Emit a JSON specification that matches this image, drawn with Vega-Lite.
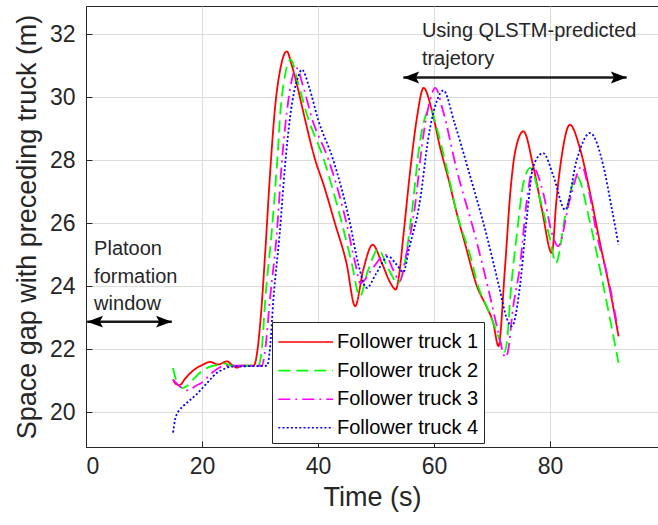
{
  "$schema": "https://vega.github.io/schema/vega-lite/v6.json",
  "width": 572,
  "height": 441,
  "autosize": {"type": "none"},
  "padding": {"left": 86, "top": 6, "right": 0, "bottom": 78},
  "background": "white",
  "config": {
    "font": "Liberation Sans",
    "view": {"stroke": "#262626", "strokeWidth": 1},
    "axis": {
      "labelFont": "Liberation Sans",
      "titleFont": "Liberation Sans",
      "labelColor": "#262626",
      "titleColor": "#262626",
      "labelFontSize": 23,
      "titleFontSize": 27,
      "titleFontWeight": "normal",
      "domainColor": "#262626",
      "tickColor": "#262626",
      "gridColor": "#dcdcdc",
      "gridWidth": 1
    },
    "legend": {
      "labelFont": "Liberation Sans",
      "labelFontSize": 20,
      "labelColor": "#000000",
      "strokeColor": "#262626",
      "fillColor": "white",
      "padding": 5,
      "rowPadding": 3.6,
      "symbolType": "M-1,0H3",
      "symbolSize": 751,
      "symbolStrokeWidth": 1.6,
      "labelOffset": 30
    }
  },
  "datasets": {
    "gap": [
      {"truck": "Follower truck 1", "time": 15, "gap": 21.05},
      {"truck": "Follower truck 1", "time": 15.5, "gap": 20.9},
      {"truck": "Follower truck 1", "time": 16.2, "gap": 20.87},
      {"truck": "Follower truck 1", "time": 17, "gap": 21.05},
      {"truck": "Follower truck 1", "time": 18, "gap": 21.25},
      {"truck": "Follower truck 1", "time": 19, "gap": 21.4},
      {"truck": "Follower truck 1", "time": 20, "gap": 21.5},
      {"truck": "Follower truck 1", "time": 21.4, "gap": 21.6},
      {"truck": "Follower truck 1", "time": 22.8, "gap": 21.52},
      {"truck": "Follower truck 1", "time": 24.3, "gap": 21.62},
      {"truck": "Follower truck 1", "time": 25.2, "gap": 21.5},
      {"truck": "Follower truck 1", "time": 26, "gap": 21.42},
      {"truck": "Follower truck 1", "time": 27, "gap": 21.48},
      {"truck": "Follower truck 1", "time": 28.9, "gap": 21.48},
      {"truck": "Follower truck 1", "time": 29.5, "gap": 21.9},
      {"truck": "Follower truck 1", "time": 30.2, "gap": 23.2},
      {"truck": "Follower truck 1", "time": 30.9, "gap": 25.1},
      {"truck": "Follower truck 1", "time": 31.7, "gap": 27.5},
      {"truck": "Follower truck 1", "time": 32.6, "gap": 29.7},
      {"truck": "Follower truck 1", "time": 33.5, "gap": 30.9},
      {"truck": "Follower truck 1", "time": 34.6, "gap": 31.46},
      {"truck": "Follower truck 1", "time": 35.5, "gap": 31.0},
      {"truck": "Follower truck 1", "time": 36.5, "gap": 30.3},
      {"truck": "Follower truck 1", "time": 37.5, "gap": 29.5},
      {"truck": "Follower truck 1", "time": 39.5, "gap": 28.02},
      {"truck": "Follower truck 1", "time": 41, "gap": 27.2},
      {"truck": "Follower truck 1", "time": 42.9, "gap": 26.01},
      {"truck": "Follower truck 1", "time": 44.9, "gap": 24.74},
      {"truck": "Follower truck 1", "time": 46.4, "gap": 23.37},
      {"truck": "Follower truck 1", "time": 47.8, "gap": 24.53},
      {"truck": "Follower truck 1", "time": 49.4, "gap": 25.32},
      {"truck": "Follower truck 1", "time": 51, "gap": 24.74},
      {"truck": "Follower truck 1", "time": 52.5, "gap": 24.1},
      {"truck": "Follower truck 1", "time": 53.4, "gap": 23.9},
      {"truck": "Follower truck 1", "time": 54, "gap": 24.4},
      {"truck": "Follower truck 1", "time": 54.7, "gap": 25.59},
      {"truck": "Follower truck 1", "time": 55.9, "gap": 27.7},
      {"truck": "Follower truck 1", "time": 57, "gap": 29.3},
      {"truck": "Follower truck 1", "time": 58.2, "gap": 30.3},
      {"truck": "Follower truck 1", "time": 59.6, "gap": 29.6},
      {"truck": "Follower truck 1", "time": 61, "gap": 28.44},
      {"truck": "Follower truck 1", "time": 62.5, "gap": 27.39},
      {"truck": "Follower truck 1", "time": 63.9, "gap": 26.33},
      {"truck": "Follower truck 1", "time": 65.3, "gap": 25.38},
      {"truck": "Follower truck 1", "time": 67.4, "gap": 24.0},
      {"truck": "Follower truck 1", "time": 69, "gap": 23.37},
      {"truck": "Follower truck 1", "time": 70.2, "gap": 22.84},
      {"truck": "Follower truck 1", "time": 71.1, "gap": 22.1},
      {"truck": "Follower truck 1", "time": 72.2, "gap": 24.53},
      {"truck": "Follower truck 1", "time": 73.2, "gap": 27.1},
      {"truck": "Follower truck 1", "time": 74, "gap": 28.3},
      {"truck": "Follower truck 1", "time": 75.4, "gap": 28.92},
      {"truck": "Follower truck 1", "time": 77.1, "gap": 27.81},
      {"truck": "Follower truck 1", "time": 78.6, "gap": 26.43},
      {"truck": "Follower truck 1", "time": 80.3, "gap": 25.06},
      {"truck": "Follower truck 1", "time": 81.1, "gap": 26.75},
      {"truck": "Follower truck 1", "time": 82, "gap": 28.13},
      {"truck": "Follower truck 1", "time": 83.4, "gap": 29.13},
      {"truck": "Follower truck 1", "time": 85.2, "gap": 28.34},
      {"truck": "Follower truck 1", "time": 86.9, "gap": 26.96},
      {"truck": "Follower truck 1", "time": 88.6, "gap": 25.38},
      {"truck": "Follower truck 1", "time": 90.3, "gap": 23.9},
      {"truck": "Follower truck 1", "time": 91.8, "gap": 22.41},

      {"truck": "Follower truck 2", "time": 15, "gap": 21.41},
      {"truck": "Follower truck 2", "time": 15.5, "gap": 21.05},
      {"truck": "Follower truck 2", "time": 16.7, "gap": 20.77},
      {"truck": "Follower truck 2", "time": 17.5, "gap": 20.85},
      {"truck": "Follower truck 2", "time": 18.5, "gap": 21.05},
      {"truck": "Follower truck 2", "time": 19.9, "gap": 21.3},
      {"truck": "Follower truck 2", "time": 21, "gap": 21.42},
      {"truck": "Follower truck 2", "time": 22.5, "gap": 21.5},
      {"truck": "Follower truck 2", "time": 24, "gap": 21.55},
      {"truck": "Follower truck 2", "time": 25, "gap": 21.48},
      {"truck": "Follower truck 2", "time": 29.7, "gap": 21.48},
      {"truck": "Follower truck 2", "time": 30.3, "gap": 22.0},
      {"truck": "Follower truck 2", "time": 30.9, "gap": 23.58},
      {"truck": "Follower truck 2", "time": 32, "gap": 25.7},
      {"truck": "Follower truck 2", "time": 32.9, "gap": 27.81},
      {"truck": "Follower truck 2", "time": 33.7, "gap": 29.93},
      {"truck": "Follower truck 2", "time": 35.3, "gap": 31.2},
      {"truck": "Follower truck 2", "time": 36.5, "gap": 30.5},
      {"truck": "Follower truck 2", "time": 38, "gap": 29.5},
      {"truck": "Follower truck 2", "time": 41, "gap": 28.02},
      {"truck": "Follower truck 2", "time": 44.1, "gap": 26.01},
      {"truck": "Follower truck 2", "time": 45.8, "gap": 24.74},
      {"truck": "Follower truck 2", "time": 47.2, "gap": 23.68},
      {"truck": "Follower truck 2", "time": 48.6, "gap": 24.5},
      {"truck": "Follower truck 2", "time": 50.4, "gap": 25.17},
      {"truck": "Follower truck 2", "time": 52, "gap": 24.6},
      {"truck": "Follower truck 2", "time": 53.8, "gap": 24.11},
      {"truck": "Follower truck 2", "time": 54.8, "gap": 24.6},
      {"truck": "Follower truck 2", "time": 56.2, "gap": 26.4},
      {"truck": "Follower truck 2", "time": 57.5, "gap": 28.5},
      {"truck": "Follower truck 2", "time": 59.3, "gap": 29.63},
      {"truck": "Follower truck 2", "time": 60.5, "gap": 29.0},
      {"truck": "Follower truck 2", "time": 62, "gap": 27.9},
      {"truck": "Follower truck 2", "time": 64.1, "gap": 26.2},
      {"truck": "Follower truck 2", "time": 66.2, "gap": 25.0},
      {"truck": "Follower truck 2", "time": 67.6, "gap": 24.0},
      {"truck": "Follower truck 2", "time": 69.2, "gap": 23.3},
      {"truck": "Follower truck 2", "time": 70.5, "gap": 22.7},
      {"truck": "Follower truck 2", "time": 71.5, "gap": 22.2},
      {"truck": "Follower truck 2", "time": 72.1, "gap": 21.92},
      {"truck": "Follower truck 2", "time": 72.6, "gap": 22.3},
      {"truck": "Follower truck 2", "time": 73.1, "gap": 23.57},
      {"truck": "Follower truck 2", "time": 74.3, "gap": 25.7},
      {"truck": "Follower truck 2", "time": 75.4, "gap": 27.28},
      {"truck": "Follower truck 2", "time": 76.6, "gap": 27.76},
      {"truck": "Follower truck 2", "time": 78.3, "gap": 26.75},
      {"truck": "Follower truck 2", "time": 80, "gap": 25.48},
      {"truck": "Follower truck 2", "time": 81, "gap": 24.74},
      {"truck": "Follower truck 2", "time": 82.6, "gap": 26.22},
      {"truck": "Follower truck 2", "time": 84.6, "gap": 27.49},
      {"truck": "Follower truck 2", "time": 86.9, "gap": 26.01},
      {"truck": "Follower truck 2", "time": 89.2, "gap": 24.0},
      {"truck": "Follower truck 2", "time": 91.8, "gap": 21.57},

      {"truck": "Follower truck 3", "time": 15, "gap": 21.04},
      {"truck": "Follower truck 3", "time": 16, "gap": 20.85},
      {"truck": "Follower truck 3", "time": 17.6, "gap": 20.7},
      {"truck": "Follower truck 3", "time": 19, "gap": 20.85},
      {"truck": "Follower truck 3", "time": 20, "gap": 20.95},
      {"truck": "Follower truck 3", "time": 22, "gap": 21.3},
      {"truck": "Follower truck 3", "time": 24, "gap": 21.48},
      {"truck": "Follower truck 3", "time": 30.3, "gap": 21.48},
      {"truck": "Follower truck 3", "time": 30.9, "gap": 22.0},
      {"truck": "Follower truck 3", "time": 31.7, "gap": 23.58},
      {"truck": "Follower truck 3", "time": 32.9, "gap": 25.7},
      {"truck": "Follower truck 3", "time": 33.7, "gap": 27.81},
      {"truck": "Follower truck 3", "time": 34.9, "gap": 29.93},
      {"truck": "Follower truck 3", "time": 36.3, "gap": 30.93},
      {"truck": "Follower truck 3", "time": 37.5, "gap": 30.3},
      {"truck": "Follower truck 3", "time": 39, "gap": 29.3},
      {"truck": "Follower truck 3", "time": 41.8, "gap": 28.02},
      {"truck": "Follower truck 3", "time": 44.9, "gap": 26.01},
      {"truck": "Follower truck 3", "time": 46.4, "gap": 24.74},
      {"truck": "Follower truck 3", "time": 47.3, "gap": 24.1},
      {"truck": "Follower truck 3", "time": 49.5, "gap": 24.6},
      {"truck": "Follower truck 3", "time": 51.6, "gap": 25.0},
      {"truck": "Follower truck 3", "time": 53, "gap": 24.5},
      {"truck": "Follower truck 3", "time": 54.1, "gap": 24.16},
      {"truck": "Follower truck 3", "time": 55.2, "gap": 25.0},
      {"truck": "Follower truck 3", "time": 56.7, "gap": 26.54},
      {"truck": "Follower truck 3", "time": 58, "gap": 28.6},
      {"truck": "Follower truck 3", "time": 59.3, "gap": 29.9},
      {"truck": "Follower truck 3", "time": 60.2, "gap": 30.3},
      {"truck": "Follower truck 3", "time": 61.5, "gap": 29.6},
      {"truck": "Follower truck 3", "time": 63.9, "gap": 27.7},
      {"truck": "Follower truck 3", "time": 67.1, "gap": 25.59},
      {"truck": "Follower truck 3", "time": 69.5, "gap": 23.8},
      {"truck": "Follower truck 3", "time": 71, "gap": 22.6},
      {"truck": "Follower truck 3", "time": 72.3, "gap": 21.75},
      {"truck": "Follower truck 3", "time": 72.7, "gap": 21.9},
      {"truck": "Follower truck 3", "time": 73.6, "gap": 23.3},
      {"truck": "Follower truck 3", "time": 74.8, "gap": 24.63},
      {"truck": "Follower truck 3", "time": 76, "gap": 26.75},
      {"truck": "Follower truck 3", "time": 77.1, "gap": 27.76},
      {"truck": "Follower truck 3", "time": 78.8, "gap": 26.97},
      {"truck": "Follower truck 3", "time": 80.3, "gap": 25.7},
      {"truck": "Follower truck 3", "time": 81.4, "gap": 25.27},
      {"truck": "Follower truck 3", "time": 83.4, "gap": 26.75},
      {"truck": "Follower truck 3", "time": 85.5, "gap": 27.81},
      {"truck": "Follower truck 3", "time": 86.5, "gap": 27.2},
      {"truck": "Follower truck 3", "time": 88, "gap": 25.7},
      {"truck": "Follower truck 3", "time": 90.3, "gap": 24.0},
      {"truck": "Follower truck 3", "time": 91.8, "gap": 22.5},

      {"truck": "Follower truck 4", "time": 15, "gap": 19.36},
      {"truck": "Follower truck 4", "time": 15.4, "gap": 19.8},
      {"truck": "Follower truck 4", "time": 16, "gap": 20.05},
      {"truck": "Follower truck 4", "time": 16.7, "gap": 20.19},
      {"truck": "Follower truck 4", "time": 18, "gap": 20.4},
      {"truck": "Follower truck 4", "time": 19, "gap": 20.56},
      {"truck": "Follower truck 4", "time": 20.2, "gap": 20.8},
      {"truck": "Follower truck 4", "time": 21.4, "gap": 21.04},
      {"truck": "Follower truck 4", "time": 22.5, "gap": 21.25},
      {"truck": "Follower truck 4", "time": 23.6, "gap": 21.36},
      {"truck": "Follower truck 4", "time": 25, "gap": 21.45},
      {"truck": "Follower truck 4", "time": 31.2, "gap": 21.48},
      {"truck": "Follower truck 4", "time": 31.7, "gap": 22.0},
      {"truck": "Follower truck 4", "time": 32.3, "gap": 23.58},
      {"truck": "Follower truck 4", "time": 33.4, "gap": 25.7},
      {"truck": "Follower truck 4", "time": 34.3, "gap": 27.81},
      {"truck": "Follower truck 4", "time": 35.2, "gap": 29.4},
      {"truck": "Follower truck 4", "time": 36.6, "gap": 30.67},
      {"truck": "Follower truck 4", "time": 37.2, "gap": 30.88},
      {"truck": "Follower truck 4", "time": 38.5, "gap": 30.3},
      {"truck": "Follower truck 4", "time": 40, "gap": 29.3},
      {"truck": "Follower truck 4", "time": 42.6, "gap": 28.02},
      {"truck": "Follower truck 4", "time": 45.5, "gap": 26.01},
      {"truck": "Follower truck 4", "time": 46.9, "gap": 24.74},
      {"truck": "Follower truck 4", "time": 48.4, "gap": 23.95},
      {"truck": "Follower truck 4", "time": 50, "gap": 24.4},
      {"truck": "Follower truck 4", "time": 52.1, "gap": 24.95},
      {"truck": "Follower truck 4", "time": 53.5, "gap": 24.7},
      {"truck": "Follower truck 4", "time": 54.7, "gap": 24.45},
      {"truck": "Follower truck 4", "time": 55.7, "gap": 25.2},
      {"truck": "Follower truck 4", "time": 57.6, "gap": 26.75},
      {"truck": "Follower truck 4", "time": 59, "gap": 28.7},
      {"truck": "Follower truck 4", "time": 60.5, "gap": 29.9},
      {"truck": "Follower truck 4", "time": 61.6, "gap": 30.22},
      {"truck": "Follower truck 4", "time": 63.5, "gap": 29.2},
      {"truck": "Follower truck 4", "time": 65.9, "gap": 27.7},
      {"truck": "Follower truck 4", "time": 69.1, "gap": 25.59},
      {"truck": "Follower truck 4", "time": 71.2, "gap": 24.0},
      {"truck": "Follower truck 4", "time": 72.5, "gap": 23.0},
      {"truck": "Follower truck 4", "time": 73.4, "gap": 22.73},
      {"truck": "Follower truck 4", "time": 74.8, "gap": 24.0},
      {"truck": "Follower truck 4", "time": 76, "gap": 26.22},
      {"truck": "Follower truck 4", "time": 77.1, "gap": 27.81},
      {"truck": "Follower truck 4", "time": 78.8, "gap": 28.23},
      {"truck": "Follower truck 4", "time": 80.6, "gap": 27.49},
      {"truck": "Follower truck 4", "time": 82.6, "gap": 26.43},
      {"truck": "Follower truck 4", "time": 84.6, "gap": 28.02},
      {"truck": "Follower truck 4", "time": 86.9, "gap": 28.87},
      {"truck": "Follower truck 4", "time": 89.2, "gap": 27.81},
      {"truck": "Follower truck 4", "time": 90.5, "gap": 26.6},
      {"truck": "Follower truck 4", "time": 91.8, "gap": 25.32}
    ],
    "notes": [
      {"x": 1.4, "y": 25.0, "text": "Platoon"},
      {"x": 1.4, "y": 24.12, "text": "formation"},
      {"x": 1.4, "y": 23.25, "text": "window"},
      {"x": 57.9, "y": 31.91, "text": "Using QLSTM-predicted"},
      {"x": 57.9, "y": 31.03, "text": "trajetory"}
    ],
    "arrows": [
      {"start": 0.2, "end": 14.8, "y": 22.88},
      {"start": 54.7, "end": 93.2, "y": 30.63}
    ]
  },
  "layer": [
    {
      "data": {"name": "gap"},
      "mark": {"type": "line", "interpolate": "monotone", "strokeWidth": 1.8, "strokeCap": "butt", "clip": true},
      "encoding": {
        "x": {
          "field": "time", "type": "quantitative",
          "scale": {"domain": [0, 98.6], "nice": false, "zero": false},
          "axis": {"values": [0, 20, 40, 60, 80], "title": "Time (s)", "grid": true, "tickSize": -6, "labelPadding": 14, "titlePadding": 6, "domain": true}
        },
        "y": {
          "field": "gap", "type": "quantitative",
          "scale": {"domain": [18.9, 32.9], "nice": false, "zero": false},
          "axis": {"values": [20, 22, 24, 26, 28, 30, 32], "title": "Space gap with preceding truck (m)", "grid": true, "tickSize": -6, "labelPadding": 17, "titlePadding": 8}
        },
        "color": {
          "field": "truck", "type": "nominal",
          "scale": {"domain": ["Follower truck 1", "Follower truck 2", "Follower truck 3", "Follower truck 4"], "range": ["#ff0000", "#00ff00", "#ff00ff", "#0000ff"]},
          "legend": {"title": null, "orient": "none", "legendX": 186, "legendY": 316}
        },
        "strokeDash": {
          "field": "truck", "type": "nominal",
          "scale": {"domain": ["Follower truck 1", "Follower truck 2", "Follower truck 3", "Follower truck 4"], "range": [[1, 0], [12, 6], [12, 5, 2, 5], [2, 2.2]]},
          "legend": {"title": null, "orient": "none", "legendX": 186, "legendY": 316}
        }
      }
    },
    {
      "data": {"name": "notes"},
      "mark": {"type": "text", "align": "left", "baseline": "alphabetic", "fontSize": 20, "color": "#262626", "font": "Liberation Sans"},
      "encoding": {
        "x": {"field": "x", "type": "quantitative"},
        "y": {"field": "y", "type": "quantitative"},
        "text": {"field": "text", "type": "nominal"}
      }
    },
    {
      "data": {"name": "arrows"},
      "mark": {"type": "rule", "strokeWidth": 2.5, "color": "#1a1a1a"},
      "encoding": {
        "x": {"field": "start", "type": "quantitative"},
        "x2": {"field": "end"},
        "y": {"field": "y", "type": "quantitative"}
      }
    },
    {
      "data": {"name": "arrows"},
      "mark": {"type": "point", "shape": "M0,0L2,-0.75L1.6,0L2,0.75Z", "size": 250, "filled": true, "color": "#000000", "opacity": 1},
      "encoding": {
        "x": {"field": "start", "type": "quantitative"},
        "y": {"field": "y", "type": "quantitative"}
      }
    },
    {
      "data": {"name": "arrows"},
      "mark": {"type": "point", "shape": "M0,0L-2,-0.75L-1.6,0L-2,0.75Z", "size": 250, "filled": true, "color": "#000000", "opacity": 1},
      "encoding": {
        "x": {"field": "end", "type": "quantitative"},
        "y": {"field": "y", "type": "quantitative"}
      }
    }
  ]
}
